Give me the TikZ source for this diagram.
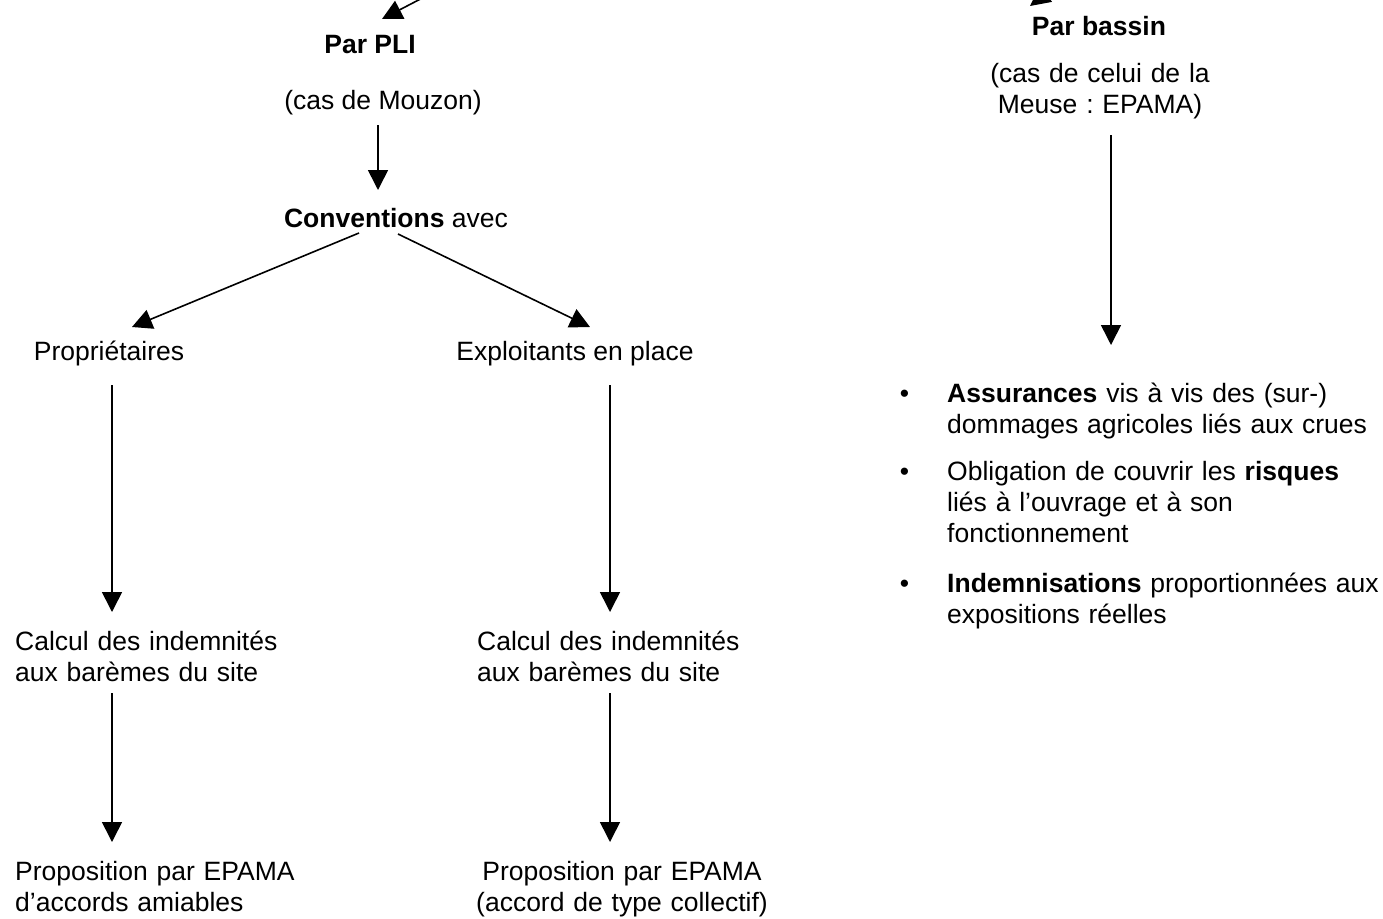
\documentclass[tikz,border=0pt]{standalone}
\usepackage{fontspec}
\setmainfont{Liberation Sans}
\usetikzlibrary{arrows.meta,calc}
\frenchspacing
\begin{document}
\begin{tikzpicture}[x=1pt,y=-1pt,
  txt/.style={inner sep=0pt,font=\fontsize{26.5}{31}\selectfont\frenchspacing},
  arr/.style={line width=1.6pt,-{Triangle[length=20pt,width=20pt]}}]
\useasboundingbox (0,0) rectangle (1383,918);
\clip (0,0) rectangle (1383,918);
% left branch
\node[txt,anchor=base] (pli) at (370,53) {\textbf{Par PLI}};
\node[txt,anchor=base] (mouzon) at (383,109) {(cas de Mouzon)};
\node[txt,anchor=base] (conv) at (396,227) {\textbf{Conventions} avec};
\node[txt,anchor=base] (prop) at (109,360) {Propriétaires};
\node[txt,anchor=base] (expl) at (575,360) {Exploitants en place};
\node[txt,anchor=base west,text width=300pt,align=left] (calc1) at (15,650)
  {\makebox[268pt][s]{Calcul des indemnités}\\aux barèmes du site};
\node[txt,anchor=base west,text width=300pt,align=left] (calc2) at (477,650)
  {\makebox[266pt][s]{Calcul des indemnités}\\aux barèmes du site};
\node[txt,anchor=base west,text width=320pt,align=left] (propo1) at (15,880)
  {\makebox[287pt][s]{Proposition par EPAMA}\\d’accords amiables};
\node[txt,anchor=base,text width=340pt,align=center] (propo2) at (622,880)
  {Proposition par EPAMA\\(accord de type collectif)};
% right branch
\node[txt,anchor=base] (bassin) at (1099,35) {\textbf{Par bassin}};
\node[txt,anchor=base,text width=300pt,align=center] (cas2) at (1100,82)
  {(cas de celui de la\\Meuse : EPAMA)};
\node[txt,anchor=base west,text width=436pt,align=left] (b1) at (947,402)
  {\llap{\textbullet\hspace{38pt}}\textbf{Assurances} vis à vis des (sur-)\\dommages agricoles liés aux crues};
\node[txt,anchor=base west,text width=436pt,align=left] (b2) at (947,480)
  {\llap{\textbullet\hspace{38pt}}Obligation de couvrir les \textbf{risques}\\liés à l’ouvrage et à son\\fonctionnement};
\node[txt,anchor=base west,text width=436pt,align=left] (b3) at (947,592)
  {\llap{\textbullet\hspace{38pt}}\textbf{Indemnisations} proportionnées aux\\expositions réelles};
% incoming arrows cut by the top edge
\coordinate (srcL) at (457,-20);
\coordinate (srcR) at (1130,-71);
\draw[arr] (srcL) -- ($(pli.base)+(12,-34)$);
\draw[arr] (srcR) -- ($(bassin.base)+(-69,-29)$);
% connectors
\draw[arr] ($(mouzon.base)+(-5,16)$) -- ($(conv.base)+(-18,-37)$);
\draw[arr] ($(conv.base)+(-37,6)$) -- ($(prop.base)+(23,-33)$);
\draw[arr] ($(conv.base)+(2,7)$) -- ($(expl.base)+(15,-33)$);
\draw[arr] ($(prop.base)+(3,25)$) -- ($(calc1.base west)+(97,-38)$);
\draw[arr] ($(expl.base)+(35,25)$) -- ($(calc2.base west)+(133,-38)$);
\draw[arr] ($(calc1.base west)+(97,43)$) -- ($(propo1.base west)+(97,-38)$);
\draw[arr] ($(calc2.base west)+(133,43)$) -- ($(propo2.base)+(-12,-38)$);
\draw[arr] ($(cas2.base)+(11,53)$) -- ($(b1.base west)+(164,-57)$);
\end{tikzpicture}
\end{document}
